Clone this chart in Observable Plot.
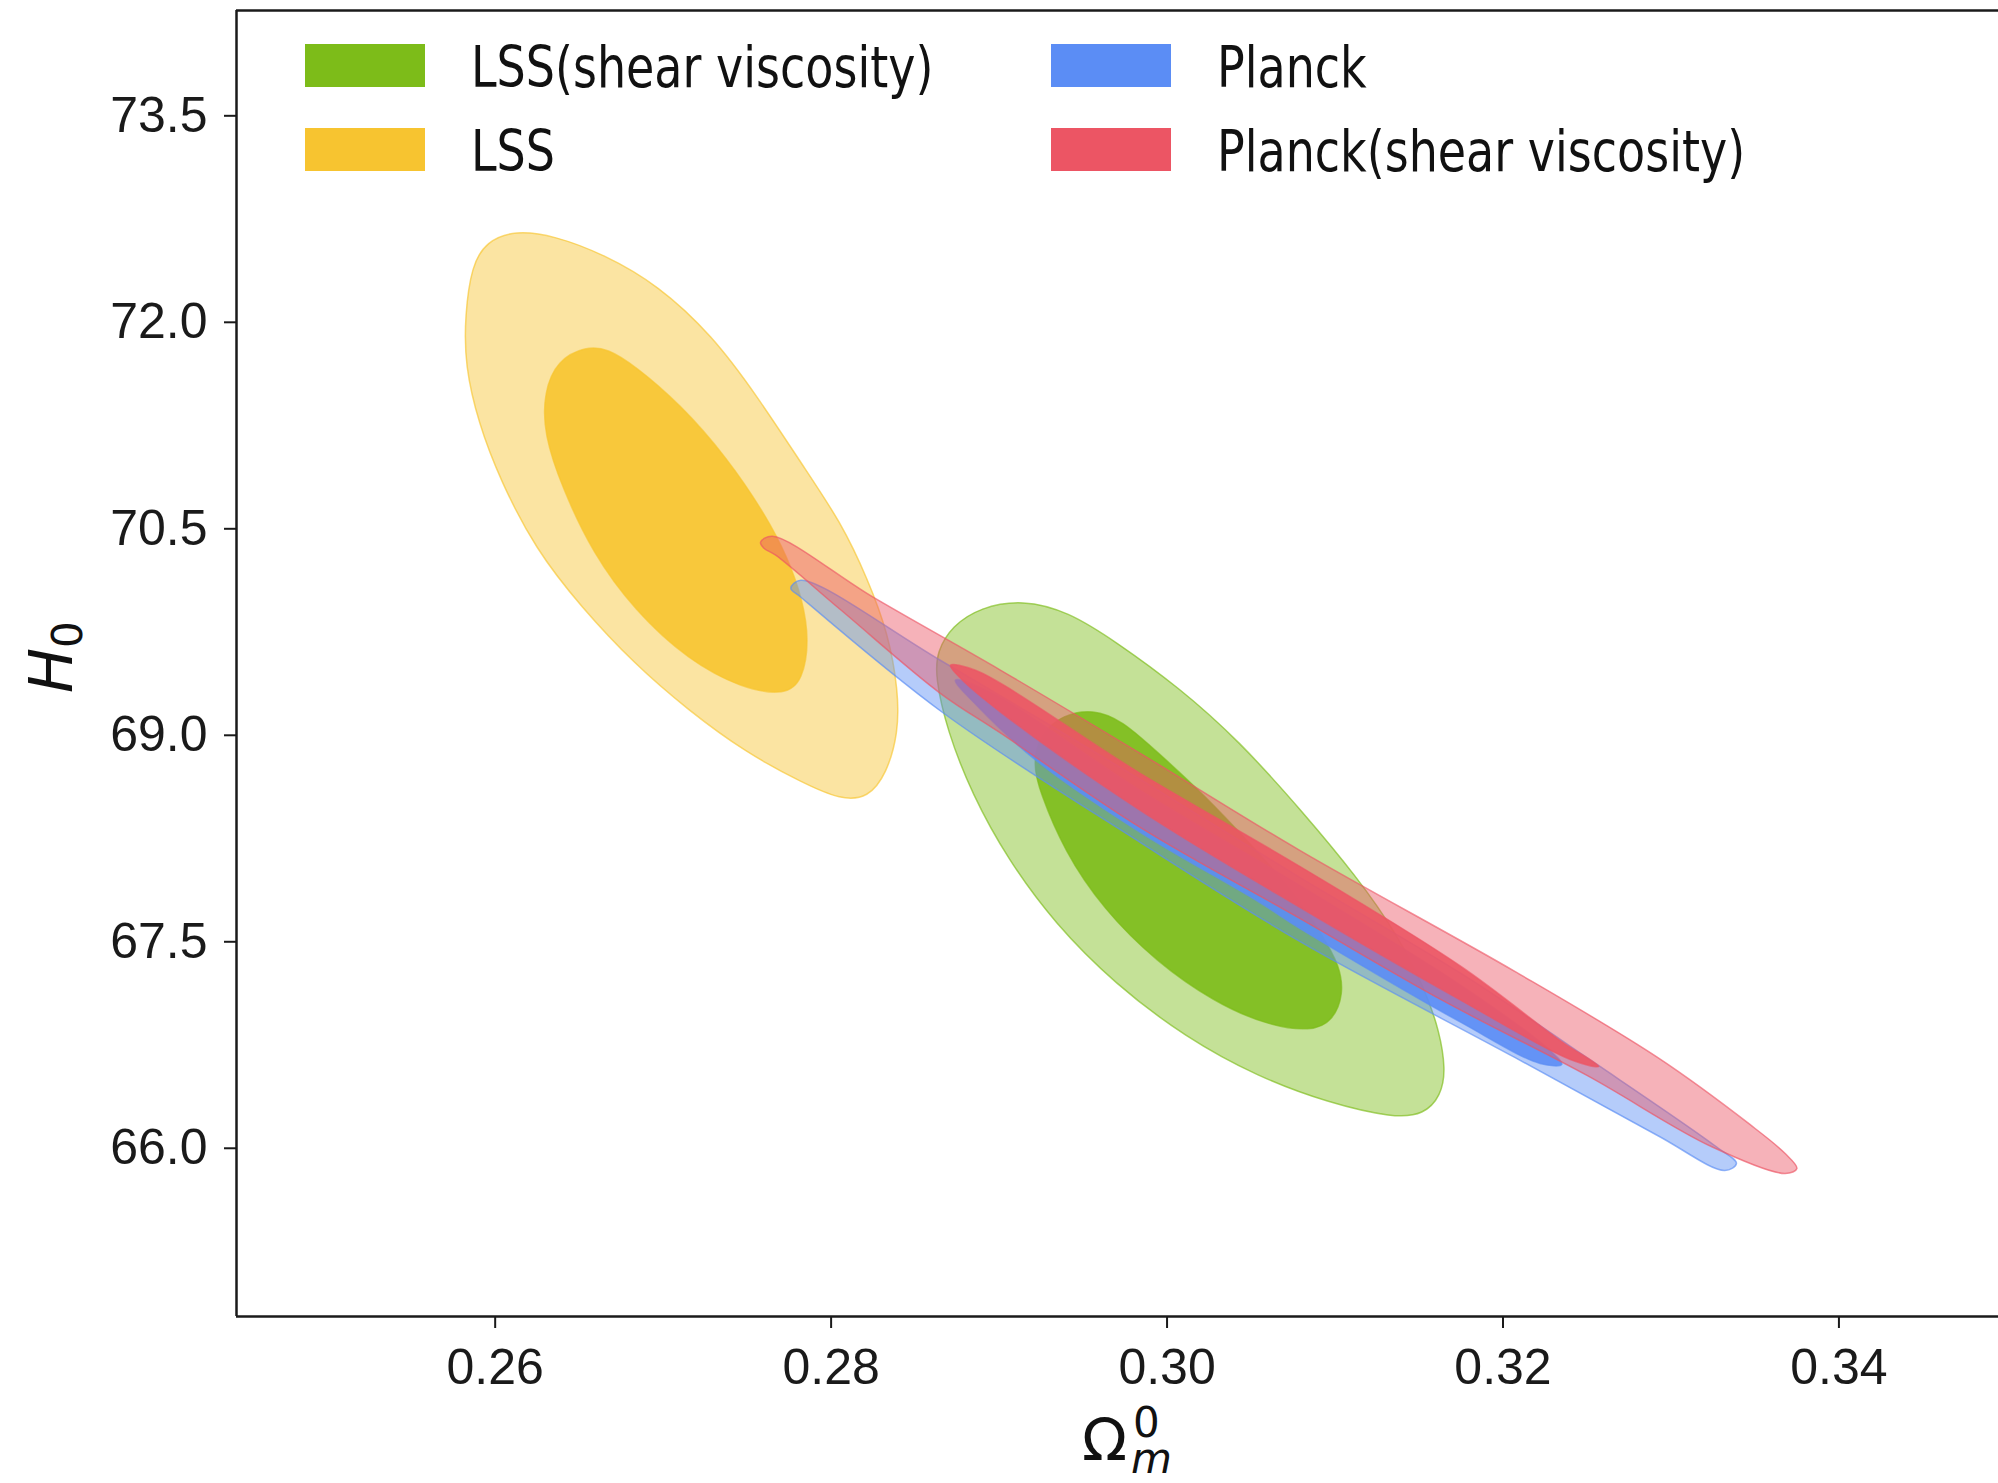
<!DOCTYPE html>
<html>
<head>
<meta charset="utf-8">
<script src="https://cdn.jsdelivr.net/npm/d3@7"></script>
<script src="https://cdn.jsdelivr.net/npm/@observablehq/plot@0.6"></script>
<style>
  html, body { margin: 0; padding: 0; background: #fff; }
  #wrap { position: relative; width: 1998px; height: 1483px; overflow: hidden; }
  #chart svg [aria-label$="tick"] path,
  #chart svg [aria-label$="tick"] line { stroke-width: 2px; }
  #overlay { position: absolute; left: 0; top: 0; pointer-events: none; }
</style>
</head>
<body>
<div id="wrap">
  <div id="chart"></div>
  <svg id="overlay" width="1998" height="1483"></svg>
</div>
<script>
// ---------- data (Ωm0, H0) ----------
const xTicks = [0.26, 0.28, 0.30, 0.32, 0.34];
const yTicks = [66.0, 67.5, 69.0, 70.5, 72.0, 73.5];
const xDomain = [0.2446, 0.3495];
const yDomain = [64.778, 74.265];

const seriesNames  = ["LSS(shear viscosity)", "LSS", "Planck", "Planck(shear viscosity)"];
const seriesColors = ["#7dbc19", "#f7c430", "#5b8df5", "#ec5564"];

// LSS (yellow)
const lss95 = [[0.2612,72.668],[0.2595,72.590],[0.2586,72.415],[0.2582,72.047],[0.2582,71.689],[0.2590,71.269],[0.2603,70.853],[0.2624,70.352],[0.2651,69.934],[0.2683,69.516],[0.2715,69.182],[0.2749,68.876],[0.2783,68.654],[0.2806,68.530],[0.2822,68.545],[0.2833,68.720],[0.2840,69.016],[0.2840,69.322],[0.2834,69.741],[0.2822,70.129],[0.2806,70.546],[0.2783,70.962],[0.2756,71.464],[0.2729,71.908],[0.2697,72.270],[0.2665,72.493],[0.2635,72.630]];
const lss68 = [[0.2654,71.825],[0.2637,71.725],[0.2629,71.491],[0.2629,71.185],[0.2640,70.795],[0.2658,70.323],[0.2683,69.906],[0.2715,69.545],[0.2747,69.340],[0.2773,69.290],[0.2783,69.400],[0.2787,69.683],[0.2783,69.989],[0.2774,70.295],[0.2761,70.601],[0.2738,71.018],[0.2710,71.408],[0.2683,71.686],[0.2667,71.810]];

// LSS(shear viscosity) (green)
const lssShear95 = [[0.2914,69.985],[0.2889,69.930],[0.2872,69.795],[0.2863,69.608],[0.2862,69.426],[0.2869,69.036],[0.2884,68.569],[0.2905,68.102],[0.2933,67.634],[0.2969,67.193],[0.3011,66.805],[0.3054,66.519],[0.3096,66.330],[0.3135,66.220],[0.3153,66.245],[0.3163,66.380],[0.3166,66.571],[0.3162,66.856],[0.3154,67.142],[0.3137,67.557],[0.3113,67.972],[0.3081,68.440],[0.3043,68.959],[0.3007,69.349],[0.2969,69.685],[0.2941,69.900]];
const lssShear68 = [[0.2956,69.190],[0.2938,69.150],[0.2925,69.015],[0.2920,68.804],[0.2924,68.595],[0.2939,68.154],[0.2962,67.738],[0.2994,67.350],[0.3028,67.064],[0.3058,66.900],[0.3086,66.845],[0.3099,66.930],[0.3105,67.116],[0.3103,67.323],[0.3092,67.557],[0.3075,67.868],[0.3050,68.206],[0.3022,68.569],[0.2994,68.881],[0.2973,69.110]];

// Planck (blue)
const planck95 = [[0.2776,70.068],[0.2782,70.126],[0.2865,69.545],[0.2984,68.680],[0.3079,67.968],[0.3175,67.270],[0.3256,66.609],[0.3326,66.020],[0.3339,65.890],[0.3332,65.839],[0.3292,66.093],[0.3207,66.660],[0.3079,67.503],[0.2984,68.222],[0.2867,69.160],[0.2782,70.003]];
const planck68 = [[0.2874,69.400],[0.2895,69.312],[0.2984,68.600],[0.3079,67.910],[0.3175,67.183],[0.3228,66.711],[0.3235,66.609],[0.3222,66.616],[0.3175,66.914],[0.3079,67.597],[0.3054,67.794],[0.2984,68.295],[0.2922,68.818],[0.2886,69.225]];

// Planck(shear viscosity) (red)
const planckShear95 = [[0.2758,70.403],[0.2765,70.446],[0.2825,70.003],[0.2901,69.472],[0.2984,68.869],[0.3079,68.164],[0.3207,67.285],[0.3292,66.660],[0.3347,66.173],[0.3368,65.962],[0.3375,65.853],[0.3368,65.817],[0.3324,66.013],[0.3250,66.529],[0.3164,67.074],[0.3079,67.670],[0.2984,68.331],[0.2901,69.015],[0.2865,69.305],[0.2806,69.908],[0.2767,70.308],[0.2760,70.359]];
const planckShear68 = [[0.2871,69.509],[0.2886,69.472],[0.2984,68.724],[0.3079,68.048],[0.3175,67.321],[0.3234,66.783],[0.3257,66.594],[0.3240,66.645],[0.3175,67.074],[0.3079,67.750],[0.2984,68.455],[0.2901,69.167],[0.2877,69.414]];

// ---------- build ----------
const colorOf = name => seriesColors[seriesNames.indexOf(name)];
const contours = [
  {name: "LSS", level: 95, pts: lss95},
  {name: "LSS", level: 68, pts: lss68},
  {name: "LSS(shear viscosity)", level: 95, pts: lssShear95},
  {name: "LSS(shear viscosity)", level: 68, pts: lssShear68},
  {name: "Planck", level: 95, pts: planck95},
  {name: "Planck", level: 68, pts: planck68},
  {name: "Planck(shear viscosity)", level: 95, pts: planckShear95},
  {name: "Planck(shear viscosity)", level: 68, pts: planckShear68}
];

const contourMarks = contours.map(c => Plot.line(c.pts, {
  x: d => d[0],
  y: d => d[1],
  curve: c.name.startsWith("LSS") ? "basis-closed" : "catmull-rom-closed",
  fill: colorOf(c.name),
  fillOpacity: c.level === 95 ? 0.45 : 0.9,
  stroke: colorOf(c.name),
  strokeOpacity: 0.65,
  strokeWidth: 1.5
}));

const chart = Plot.plot({
  width: 1998,
  height: 1483,
  marginLeft: 236,
  marginRight: 0,
  marginTop: 10,
  marginBottom: 167,
  style: {
    fontFamily: "'Liberation Sans', Arial, Helvetica, sans-serif",
    fontSize: "50px",
    color: "#1a1a1a",
    background: "#fff",
    overflow: "visible"
  },
  x: {domain: xDomain, ticks: xTicks, tickFormat: d3.format(".2f"), tickSize: 12, tickPadding: 20, label: null},
  y: {domain: yDomain, ticks: yTicks, tickFormat: d3.format(".1f"), tickSize: 12, tickPadding: 17, label: null},
  marks: [
    ...contourMarks,
    Plot.ruleX([xDomain[0]], {stroke: "#1a1a1a", strokeWidth: 2.5}),
    Plot.ruleY([yDomain[0], yDomain[1]], {stroke: "#1a1a1a", strokeWidth: 2.5})
  ]
});
document.getElementById("chart").appendChild(chart);

// ---------- legend & axis labels (text overlay) ----------
const ov = d3.select("#overlay");
const legendItems = [
  {name: seriesNames[0], col: 0, row: 0},
  {name: seriesNames[1], col: 0, row: 1},
  {name: seriesNames[2], col: 1, row: 0},
  {name: seriesNames[3], col: 1, row: 1}
];
const colX = [305, 1051];
const rowY = [44, 128];
legendItems.forEach(it => {
  ov.append("rect")
    .attr("x", colX[it.col]).attr("y", rowY[it.row])
    .attr("width", 120).attr("height", 43)
    .attr("fill", colorOf(it.name));
  ov.append("text")
    .attr("transform", `translate(${colX[it.col] + 166},${rowY[it.row] + 43}) scale(1,1.22)`)
    .attr("font-family", "'DejaVu Sans', sans-serif")
    .attr("font-size", 46)
    .attr("fill", "#111")
    .text(it.name);
});

// y label: H_0
const yl = ov.append("text")
  .attr("transform", "translate(72,693) rotate(-90)")
  .attr("font-family", "'DejaVu Sans', sans-serif")
  .attr("font-size", 60)
  .attr("fill", "#111");
yl.append("tspan").attr("font-style", "italic").text("H");
yl.append("tspan").attr("font-size", 42).attr("dy", 10).text("0");

// x label: Ω_m^0 (one text element)
const xl = ov.append("text")
  .attr("x", 1082).attr("y", 1460)
  .attr("font-family", "'DejaVu Sans', sans-serif")
  .attr("font-size", 59)
  .attr("fill", "#111");
xl.append("tspan").text("Ω");
xl.append("tspan").attr("x", 1133).attr("dy", -23).attr("font-size", 42).text("0");
xl.append("tspan").attr("x", 1131).attr("dy", 36).attr("font-size", 42).attr("font-style", "italic").text("m");
</script>
</body>
</html>
